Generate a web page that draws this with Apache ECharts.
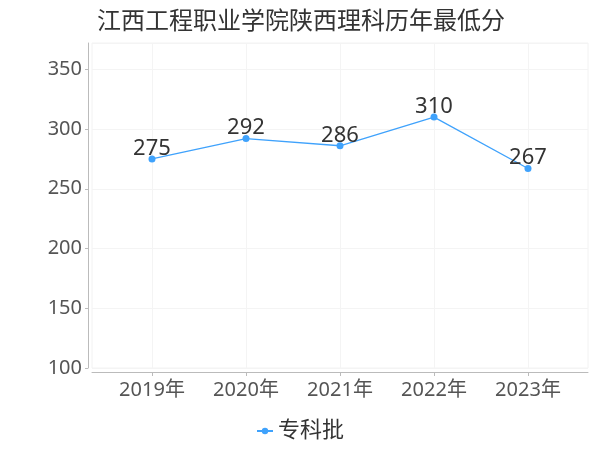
<!DOCTYPE html>
<html><head><meta charset="utf-8">
<script src="https://cdn.jsdelivr.net/npm/echarts@6/dist/echarts.min.js"></script>
<style>html,body{margin:0;padding:0;background:#fff}#c{width:600px;height:450px}</style>
</head><body><div id="c"></div>
<script>
const titleText = '江西工程职业学院陕西理科历年最低分';
const categories = ['2019年', '2020年', '2021年', '2022年', '2023年'];
const seriesName = '专科批';
const values = [275, 292, 286, 310, 267];
const yMin = 100, yMax = 372, yInterval = 50;

const FONT = '"Noto Sans", "Noto Sans CJK SC", sans-serif';
const chart = echarts.init(document.getElementById('c'));
chart.setOption({
  animation: false,
  textStyle: { fontFamily: FONT },
  title: { text: titleText, left: 92, top: 5, textStyle: { fontSize: 24, fontWeight: 'normal', color: '#333', fontFamily: FONT } },
  legend: { data: [seriesName], bottom: 3, left: 'center', itemWidth: 16, itemHeight: 8, itemGap: 6,
    textStyle: { fontSize: 22, color: '#333', fontFamily: FONT } },
  grid: [
    { left: 92, right: 12, top: 43, bottom: 82, show: true, borderColor: '#f2f2f2', borderWidth: 1 },
    { left: 152, right: 72, top: 43, bottom: 82 }
  ],
  xAxis: [
    { gridIndex: 0, type: 'category', data: categories, offset: 4,
      axisLine: { show: true, lineStyle: { color: '#bbb' } },
      axisTick: { show: false }, axisLabel: { show: false }, splitLine: { show: false } },
    { gridIndex: 1, type: 'category', data: categories, boundaryGap: false, offset: 4,
      axisLine: { show: false }, axisTick: { show: true, length: 4, lineStyle: { color: '#bbb' } },
      axisLabel: { fontSize: 20, color: '#555', margin: 8, fontFamily: FONT },
      splitLine: { show: true, lineStyle: { color: '#f4f4f4' } } }
  ],
  yAxis: [
    { gridIndex: 0, type: 'value', min: yMin, max: yMax, interval: yInterval, offset: 4,
      axisLine: { show: true, lineStyle: { color: '#bbb' } },
      axisTick: { show: true, length: 3, lineStyle: { color: '#bbb' } },
      axisLabel: { fontSize: 20, color: '#555', margin: 6, showMaxLabel: false, fontFamily: FONT },
      splitLine: { show: true, lineStyle: { color: '#f4f4f4' } } },
    { gridIndex: 1, type: 'value', min: yMin, max: yMax, interval: yInterval, show: false,
      splitLine: { show: false } }
  ],
  series: [{
    name: seriesName, type: 'line', xAxisIndex: 1, yAxisIndex: 1, data: values,
    symbol: 'circle', symbolSize: 7,
    itemStyle: { color: '#3fa2fc' }, lineStyle: { color: '#3fa2fc', width: 1.3 },
    label: { show: true, position: 'top', distance: -4, fontSize: 22, color: '#333', fontFamily: FONT }
  }]
});
</script></body></html>
